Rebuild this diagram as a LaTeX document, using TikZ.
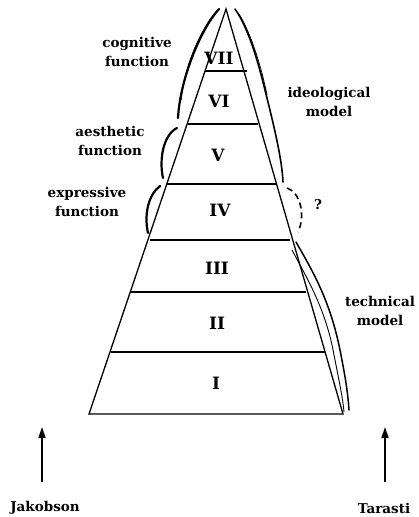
\documentclass[tikz,border=0pt]{standalone}
\usepackage{fontspec}
\setmainfont{DejaVu Serif}
\usetikzlibrary{arrows.meta}
\begin{document}
\begin{tikzpicture}[x=1pt,y=-1pt,
  edge/.style={line width=1.3pt},
  brace/.style={line width=2.2pt, line cap=round},
  lbl/.style={font=\fontsize{13.5}{18.5}\selectfont\bfseries, align=center, inner sep=0pt},
  num/.style={font=\fontsize{17}{18}\selectfont\bfseries, inner sep=0pt},
  arr/.style={line width=1.5pt, -{Triangle[length=11pt,width=7pt]}}]
\useasboundingbox (0,0) rectangle (418,517);
% pyramid
\coordinate (apex) at (226,9);
\coordinate (bl) at (89,414);
\coordinate (br) at (343,414);
\draw[edge] (bl) -- (apex) -- (br) -- cycle;
\draw[edge] (205,71) -- (247,71);
\draw[edge] (188,124) -- (258,124);
\draw[edge] (167,184) -- (276,184);
\draw[edge] (150,240) -- (290,240);
\draw[edge] (130,292) -- (306,292);
\draw[edge] (111,352) -- (325,352);
% numerals
\node[num] (n7) at (219,58) {VII};
\node[num] (n6) at (219,101) {VI};
\node[num] (n5) at (218,155) {V};
\node[num] (n4) at (220,210) {IV};
\node[num] (n3) at (217,268) {III};
\node[num] (n2) at (217,323) {II};
\node[num] (n1) at (216,383) {I};
% left braces
\draw[brace] (219,9) .. controls (200,30) and (180,80) .. (178,118);
\draw[line width=1pt] (214,14) .. controls (198,35) and (184,70) .. (181,100);
\draw[brace] (177,128) .. controls (163,135) and (159,160) .. (163,178);
\draw[brace] (160,186) .. controls (148,195) and (144,215) .. (148,233);
% right braces
\draw[line width=1.6pt, line cap=round] (235,9) .. controls (250,30) and (260,70) .. (265,90)
  .. controls (275,130) and (282,160) .. (283,182);
\draw[line width=0.8pt] (239,14) .. controls (252,35) and (262,70) .. (267,95);
\draw[line width=1.6pt, dashed, dash pattern=on 6pt off 4pt] (287,188) .. controls (300,192) and (306,215) .. (298,232);
\draw[line width=1.5pt, line cap=round] (296,242) .. controls (312,270) and (330,300) .. (340,350) .. controls (346,380) and (348,395) .. (349,410);
\draw[line width=0.9pt] (292,250) .. controls (308,280) and (326,310) .. (334,355) .. controls (340,385) and (343,400) .. (344,412);
% labels
\node[lbl] (cog) at (137,52) {cognitive\\function};
\node[lbl] (aes) at (110,141) {aesthetic\\function};
\node[lbl] (exp) at (87,202) {expressive\\function};
\node[lbl] (ideo) at (329,102) {ideological\\model};
\node[lbl] (q) at (318,205) {?};
\node[lbl] (tech) at (380,311) {technical\\model};
\node[lbl] (jak) at (45,508) {Jakobson};
\node[lbl] (tar) at (384,508) {Tarasti};
\coordinate (jbot) at (42,482);
\coordinate (jtop) at (42,427);
\coordinate (tbot) at (385,482);
\coordinate (ttop) at (385,427);
\draw[arr] (jbot) -- (jtop);
\draw[arr] (tbot) -- (ttop);
\end{tikzpicture}
\end{document}
